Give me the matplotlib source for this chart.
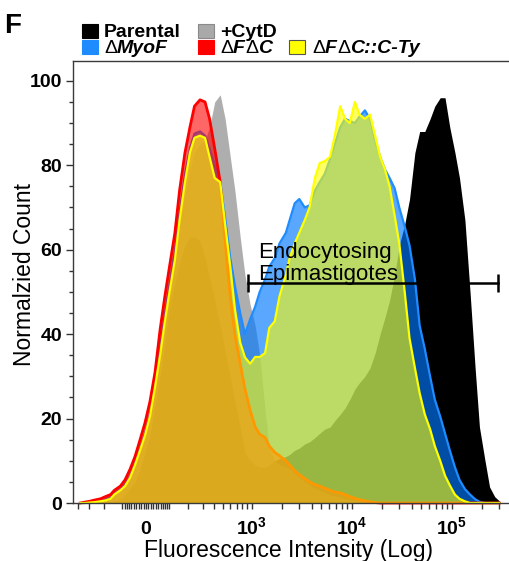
import numpy as np
import matplotlib
matplotlib.use('Agg')
import matplotlib.pyplot as plt
from matplotlib.patches import Rectangle
from matplotlib.ticker import FixedLocator, MultipleLocator

plt.rcParams['font.family'] = ['Liberation Sans', 'DejaVu Sans']
plt.rcParams['mathtext.fontset'] = 'custom'
plt.rcParams['mathtext.rm'] = 'Liberation Sans'
plt.rcParams['mathtext.bf'] = 'Liberation Sans:bold'
plt.rcParams['mathtext.default'] = 'bf'

# fluorescence bins (shared by all histograms)
fluor = [-380, -340, -300, -260, -220, -190, -160, -140, -110, -88,
         -66, -45, -24, -4, 16, 37, 58, 79, 100, 126,
         150, 180, 210, 240, 280, 320, 360, 410, 470, 530,
         600, 670, 760, 850, 960, 1080, 1200, 1360, 1500, 1700,
         1900, 2200, 2400, 2700, 3000, 3400, 3800, 4300, 4800, 5400,
         6100, 6800, 7700, 8600, 9600, 10800, 12000, 13600, 15300, 17200,
         19300, 21600, 24000, 27000, 30000, 34000, 38000, 43000, 48000, 54000,
         61000, 68000, 77000, 86000, 96000, 108000, 120000, 136000, 153000, 172000,
         190000, 216000, 240000, 270000, 300000]

parental = [0, 0, 0, 0, 0, 0.2, 0.4, 0.6, 0.8, 2,
            3.5, 5, 8, 12, 16, 23, 30, 38, 46, 52,
            57, 61, 63, 63, 62, 58, 53.5, 48, 42, 36,
            30, 24, 18, 12, 10, 9, 8.5, 8.5, 9, 10,
            10.5, 11, 11.5, 12.5, 13, 14, 14.5, 15.5, 16.5, 17.5,
            18, 19.5, 21, 22.5, 24.5, 27, 28.5, 30, 32, 35.5,
            40, 44, 48, 54, 61, 66, 72, 83, 88, 88,
            91, 94, 96, 96, 89, 83, 77, 67, 50, 32,
            18, 10, 3.8, 1.5, 0.5]

cytd = [0, 0, 0.1, 0.2, 0.4, 0.6, 1, 1.8, 2.8, 4,
        6, 8.5, 12, 15.5, 20, 27, 35, 43, 50, 57,
        66, 73, 79, 83, 85, 86, 89, 95, 96.7, 91,
        82, 74, 63, 54, 47, 42, 35, 22, 13, 10,
        9, 8.5, 8, 7, 6, 5, 4.2, 3.5, 3, 2.5,
        2, 1.6, 1.3, 1, 0.8, 0.6, 0.4, 0.3, 0.2, 0.1,
        0, 0, 0, 0, 0, 0, 0, 0, 0, 0,
        0, 0, 0, 0, 0, 0, 0, 0, 0, 0,
        0, 0, 0, 0, 0]

myof = [0, 0, 0.2, 0.4, 0.6, 0.9, 1.4, 2.3, 3.3, 4.5,
        6.5, 9.5, 13, 16.5, 21, 28.5, 37, 45, 52, 60,
        69, 78, 84, 87.5, 88, 87, 84, 80, 76, 67.5,
        58, 51.5, 45, 40, 43.5, 46.5, 50, 53, 56, 58,
        61.5, 64, 67, 71, 72, 70, 70.5, 74, 76, 78,
        81.5, 85, 89, 91, 90.5, 90, 91.5, 93, 91, 86,
        82, 79, 77, 74.5, 70, 65.5, 61, 53, 42, 36.5,
        30, 24.5, 20.5, 16.5, 12.5, 8.5, 5.5, 3.3, 2, 0.9,
        0.3, 0, 0, 0, 0]

dfdc = [0, 0.2, 0.4, 0.7, 1, 1.5, 2, 3, 4, 5.5,
        8, 11, 15, 19, 24, 31, 41, 49, 56, 64,
        74, 83, 89, 94, 95.5, 95, 91, 84, 76, 62,
        49, 40, 33, 27, 22, 18, 16.3, 15.5, 13.5, 12,
        11.2, 10, 9, 7.6, 6.7, 5.8, 5, 4.4, 4, 3.5,
        3, 2.6, 2.4, 2, 1.5, 1.1, 0.8, 0.5, 0.3, 0.1,
        0, 0, 0, 0, 0, 0, 0, 0, 0, 0,
        0, 0, 0, 0, 0, 0, 0, 0, 0, 0,
        0, 0, 0, 0, 0]

dfdc_cty = [0, 0, 0.1, 0.2, 0.4, 0.6, 1, 2, 3, 4,
            6, 9, 12.5, 16, 20.5, 27.5, 35, 43, 50, 57.6,
            67, 76, 83, 86.5, 87, 86.5, 82, 77, 76, 66,
            56, 46, 38, 34.5, 33, 34.6, 34.6, 35.5, 41.5, 43,
            49, 54, 58, 61.5, 64, 67, 70, 77, 80.5, 81,
            82, 87, 94, 91, 90, 95, 92, 91, 92, 87,
            82, 79, 75, 68, 61.5, 50, 39, 32, 26, 21,
            17.5, 13.5, 10, 6.5, 4.2, 2, 1, 0.4, 0, 0,
            0, 0, 0, 0, 0]

xtick_vals = [0, 1e3, 1e4, 1e5]
xtick_labels = ['0', r'$10^3$', r'$10^4$', r'$10^5$']
gate_x = [913, 291000]
gate_y = 52.1

W, H = 510, 561
fig = plt.figure(figsize=(W / 100, H / 100), dpi=100)
ax = fig.add_axes([73 / W, 58 / H, (W - 73) / W, 442 / H])

# biexponential-like display (arcsinh)
C = 176.0
def fwd(x):
    return np.arcsinh(np.asarray(x, dtype=float) / C) / np.log(10)
def inv(y):
    return C * np.sinh(np.asarray(y, dtype=float) * np.log(10))
ax.set_xscale('function', functions=(fwd, inv))

layers = [
    (parental, '#000000', 1.0, None, 0),
    (cytd, '#7f7f7f', 0.63, None, 0),
    (myof, '#0078ff', 0.65, '#1e8cff', 1.6),
    (dfdc, '#ff0000', 0.6, '#ff0000', 2.0),
    (dfdc_cty, '#ffff00', 0.6, '#ffff00', 1.6),
]
for i, (vals, fc, a, lc, lw) in enumerate(layers):
    z = 1 + i * 0.2
    ax.fill_between(fluor, vals, 0, color=fc, alpha=a, lw=0, zorder=z)
    if lc:
        ax.plot(fluor, vals, color=lc, lw=lw, zorder=z + 0.1, clip_on=False)

# gate
ax.plot(gate_x, [gate_y, gate_y], color='k', lw=1.8, zorder=5)
ax.plot(gate_x, [gate_y, gate_y], ls='none', marker='|', ms=13, mew=1.8,
        color='k', zorder=5)
ax.text(1153, 52.8, 'Endocytosing\nEpimastigotes', fontsize=16,
        ha='left', va='baseline', linespacing=1.1, zorder=6)

ax.set_xlim(-456, 3.84e5)
ax.set_ylim(0, 104.7)
ax.xaxis.set_major_locator(FixedLocator(xtick_vals))
ax.set_xticklabels(xtick_labels)
minor = ([-400, -300, -200, -100] + list(range(-90, 0, 10)) + list(range(10, 100, 10))
         + list(range(100, 1000, 100))
         + [k * 10 ** e for e in (3, 4) for k in range(2, 10)] + [2e5, 3e5])
ax.xaxis.set_minor_locator(FixedLocator(minor))
ax.set_yticks(range(0, 101, 20))
ax.yaxis.set_minor_locator(MultipleLocator(5))

ax.tick_params(axis='x', which='both', length=4, width=1, color='#333333', pad=18.5,
               labelsize=14)
ax.tick_params(axis='y', which='major', length=5, width=1, color='#333333', pad=3,
               labelsize=14)
ax.tick_params(axis='y', which='minor', length=3, width=1, color='#333333')
for tk in ax.xaxis.get_major_ticks():
    tk.label1.set_va('baseline')
    tk.label1.set_fontweight('bold')
for lab in ax.get_yticklabels():
    lab.set_fontweight('bold')

ax.spines['right'].set_visible(False)
for s in ('top', 'left', 'bottom'):
    ax.spines[s].set_color('#3a3a3a')
    ax.spines[s].set_linewidth(1)

ax.set_xlabel('Fluorescence Intensity (Log)', fontsize=16.5, va='top')
ax.xaxis.set_label_coords(0.492, -0.082)
ax.set_ylabel('Normalzied Count', fontsize=16.5, va='center')
ax.yaxis.set_label_coords(-0.112, 0.516)

# panel letter
fig.text(4 / W, 1 - 33 / H, 'F', fontsize=20, fontweight='bold', va='baseline')

# legend
renderer = fig.canvas.get_renderer()

def legend_label(x_px, y_px, parts):
    x = x_px / W
    for s, bold, italic in parts:
        t = fig.text(x, 1 - y_px / H, s, fontsize=14, va='baseline',
                     fontweight='bold' if bold else 'normal',
                     fontstyle='italic' if italic else 'normal')
        bb = t.get_window_extent(renderer=renderer)
        x = bb.x1 / W

def legend_box(x_px, y_top, color, edge):
    fig.add_artist(Rectangle((x_px / W, 1 - (y_top + 14) / H), 16 / W, 14 / H,
                             transform=fig.transFigure, facecolor=color,
                             edgecolor=edge, lw=0.8))

legend_box(82, 23.5, '#000000', '#000000')
legend_label(104, 36.7, [('Parental', True, False)])
legend_box(198, 23.5, '#a9a9a9', '#8a8a8a')
legend_label(220, 36.7, [('+CytD', True, False)])
legend_box(82, 39.5, '#1e8cff', '#1e8cff')
legend_label(104, 52.7, [('Δ', False, False), ('MyoF', True, True)])
legend_box(198, 39.5, '#ff0000', '#ff0000')
legend_label(220, 52.7, [('Δ', False, False), ('F', True, True),
                         ('Δ', False, False), ('C', True, True)])
legend_box(289, 39.5, '#ffff00', '#555555')
legend_label(312, 52.7, [('Δ', False, False), ('F', True, True),
                         ('Δ', False, False), ('C::C-Ty', True, True)])

fig.savefig('out.png', dpi=100)
